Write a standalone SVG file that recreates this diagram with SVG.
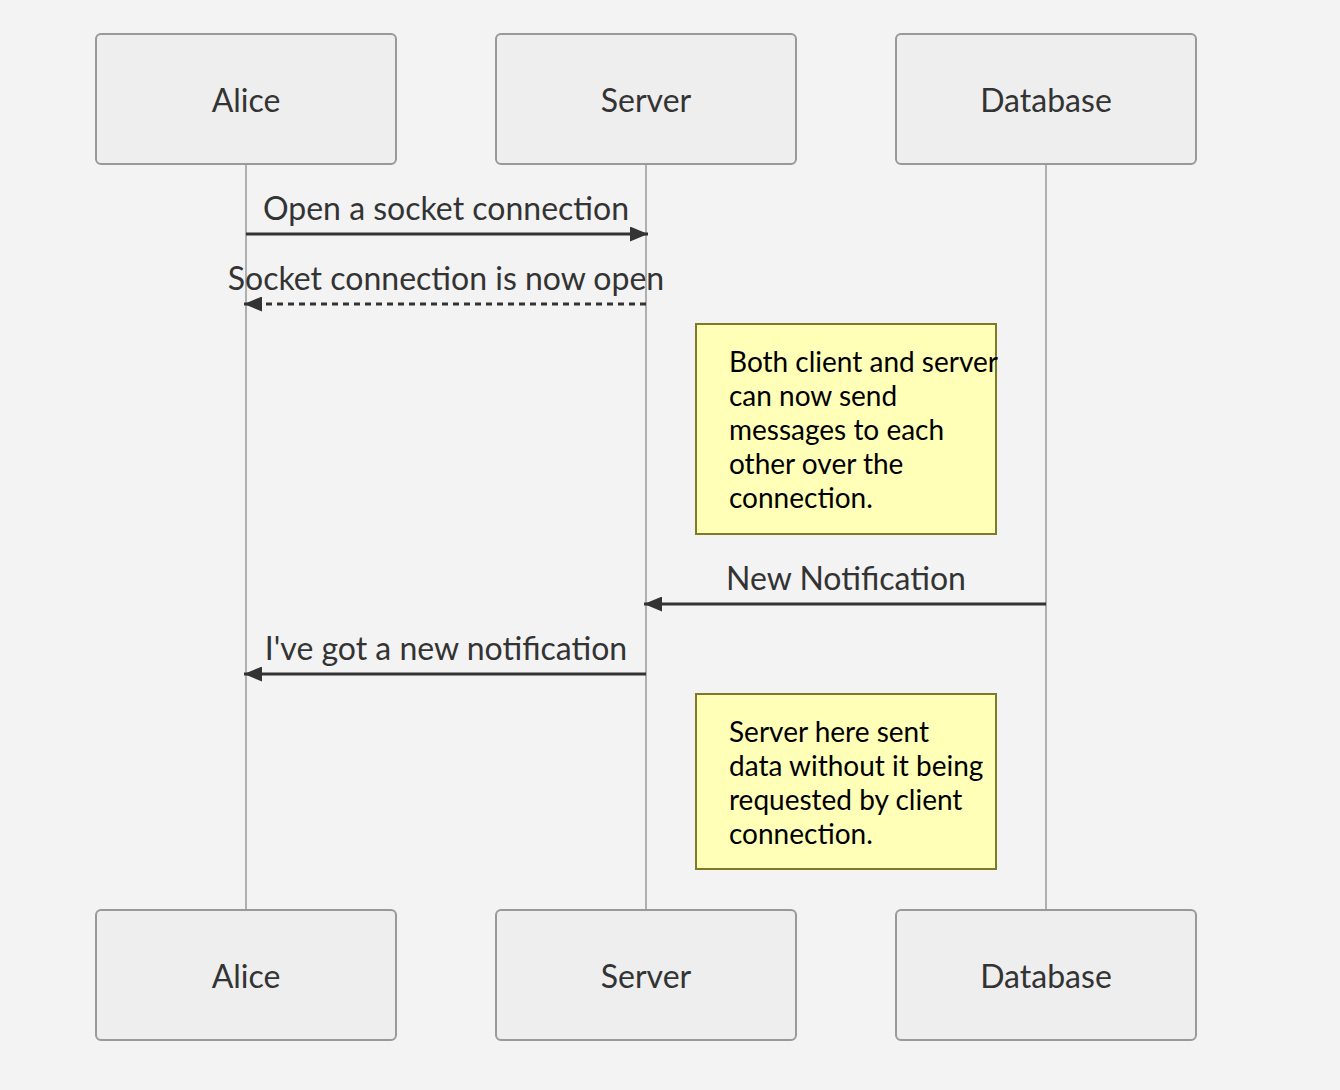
<svg xmlns="http://www.w3.org/2000/svg" width="1340" height="1090" viewBox="0 0 1340 1090">
<defs>
<style>
.actor{fill:#eeeeee;stroke:#999999;stroke-width:2}
.atext{font-family:Lato,"Open Sans",sans-serif;font-size:32px;fill:#333333;text-anchor:middle}
.life{stroke:#999999;stroke-width:1.5}
.msg{stroke:#333333;stroke-width:3;fill:none}
.dash{stroke-dasharray:6,5}
.mtext{font-family:Lato,"Open Sans",sans-serif;font-size:32px;fill:#333333;text-anchor:middle}
.note{fill:#ffffb8;stroke:#7f7a26;stroke-width:2}
.ntext{font-family:Lato,"Open Sans",sans-serif;font-size:28px;fill:#000000}
</style>
<marker id="ah" viewBox="0 0 12 10" refX="12" refY="5" markerWidth="6" markerHeight="5" markerUnits="strokeWidth" orient="auto">
<path d="M0,0 L12,5 L0,10 z" fill="#333333"/>
</marker>
</defs>
<rect width="1340" height="1090" fill="#f3f3f3"/>
<g id="lifelines">
<line class="life" x1="246" y1="164" x2="246" y2="910"/>
<line class="life" x1="646" y1="164" x2="646" y2="910"/>
<line class="life" x1="1046" y1="164" x2="1046" y2="910"/>
</g>
<g id="alice-top"><rect class="actor" x="96" y="34" width="300" height="130" rx="5"/><text class="atext" x="246" y="112">Alice</text></g>
<g id="server-top"><rect class="actor" x="496" y="34" width="300" height="130" rx="5"/><text class="atext" x="646" y="112">Server</text></g>
<g id="database-top"><rect class="actor" x="896" y="34" width="300" height="130" rx="5"/><text class="atext" x="1046" y="112">Database</text></g>
<g id="alice-bottom"><rect class="actor" x="96" y="910" width="300" height="130" rx="5"/><text class="atext" x="246" y="988">Alice</text></g>
<g id="server-bottom"><rect class="actor" x="496" y="910" width="300" height="130" rx="5"/><text class="atext" x="646" y="988">Server</text></g>
<g id="database-bottom"><rect class="actor" x="896" y="910" width="300" height="130" rx="5"/><text class="atext" x="1046" y="988">Database</text></g>
<g id="note1"><rect class="note" x="696" y="324" width="300" height="210"/>
<text class="ntext" x="729" y="372">Both client and server</text>
<text class="ntext" x="729" y="406">can now send</text>
<text class="ntext" x="729" y="440">messages to each</text>
<text class="ntext" x="729" y="474">other over the</text>
<text class="ntext" x="729" y="508">connection.</text>
</g>
<g id="note2"><rect class="note" x="696" y="694" width="300" height="175"/>
<text class="ntext" x="729" y="742">Server here sent</text>
<text class="ntext" x="729" y="776">data without it being</text>
<text class="ntext" x="729" y="810">requested by client</text>
<text class="ntext" x="729" y="844">connection.</text>
</g>
<g id="connectors">
<line class="msg" x1="246" y1="234" x2="648" y2="234" marker-end="url(#ah)"/>
<text class="mtext" x="446" y="220">Open a socket connection</text>
<line class="msg dash" x1="646" y1="304" x2="244" y2="304" marker-end="url(#ah)"/>
<text class="mtext" x="446" y="290">Socket connection is now open</text>
<line class="msg" x1="1046" y1="604" x2="644" y2="604" marker-end="url(#ah)"/>
<text class="mtext" x="846" y="590">New Notification</text>
<line class="msg" x1="646" y1="674" x2="244" y2="674" marker-end="url(#ah)"/>
<text class="mtext" x="446" y="660">I've got a new notification</text>
</g>
</svg>
